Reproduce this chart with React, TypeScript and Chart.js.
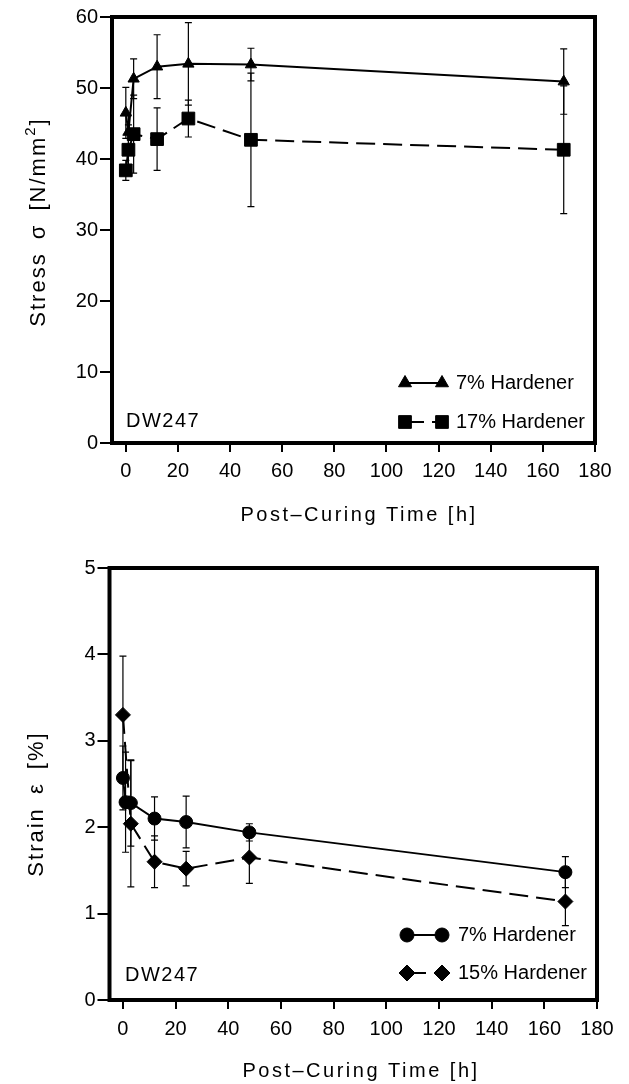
import React, { useEffect, useRef } from "react";
import { Chart, registerables } from "chart.js";

Chart.register(...registerables);

const FONT = '"Liberation Sans", Arial, Helvetica, sans-serif';

// ---------- Top chart: stress ----------
const stressHours7 = [0, 1, 3, 12, 24, 48, 168];
const stress7 = [46.5, 43.8, 51.3, 53.0, 53.4, 53.3, 50.9];
const stress7Err = [3.6, 2.4, 2.8, 4.5, 5.8, 2.3, 4.6];

const stressHours17 = [0, 1, 3, 12, 24, 48, 168];
const stress17 = [38.4, 41.3, 43.5, 42.8, 45.7, 42.7, 41.3];
const stress17Err = [1.4, 3.5, 5.5, 4.4, 2.6, 9.4, 9.0];

const stressTicks = [0, 10, 20, 30, 40, 50, 60];

// ---------- Bottom chart: strain ----------
const strainHours7 = [0, 1, 3, 12, 24, 48, 168];
const strain7 = [2.57, 2.29, 2.28, 2.1, 2.06, 1.94, 1.48];
const strain7Err = [0.37, 0.58, 0.5, 0.25, 0.3, 0.1, 0.18];

const strainHours15 = [0, 3, 12, 24, 48, 168];
const strain15 = [3.3, 2.04, 1.6, 1.52, 1.65, 1.14];
const strain15Err = [0.68, 0.73, 0.3, 0.2, 0.3, 0.28];

const strainTicks = [0, 1, 2, 3, 4, 5];

const hourTicks = [0, 20, 40, 60, 80, 100, 120, 140, 160, 180];

// ---------- helpers ----------
function shapePath(ctx: CanvasRenderingContext2D, style: string, x: number, y: number, r: number) {
  ctx.beginPath();
  if (style === "triangle") {
    let rad = 0;
    ctx.moveTo(x + Math.sin(rad) * r, y - Math.cos(rad) * r);
    rad += (2 * Math.PI) / 3;
    ctx.lineTo(x + Math.sin(rad) * r, y - Math.cos(rad) * r);
    rad += (2 * Math.PI) / 3;
    ctx.lineTo(x + Math.sin(rad) * r, y - Math.cos(rad) * r);
    ctx.closePath();
  } else if (style === "rect") {
    const s = Math.SQRT1_2 * r;
    ctx.rect(x - s, y - s, 2 * s, 2 * s);
  } else if (style === "rectRot") {
    ctx.moveTo(x - r, y);
    ctx.lineTo(x, y - r);
    ctx.lineTo(x + r, y);
    ctx.lineTo(x, y + r);
    ctx.closePath();
  } else {
    ctx.arc(x, y, r, 0, Math.PI * 2);
  }
  ctx.fillStyle = "#000";
  ctx.fill();
  ctx.lineWidth = 1;
  ctx.strokeStyle = "#000";
  ctx.stroke();
}

const errorBarPlugin = {
  id: "errorBars",
  beforeDatasetsDraw(chart: any) {
    const ctx = chart.ctx;
    const xs = chart.scales.x;
    const ys = chart.scales.y;
    chart.data.datasets.forEach((ds: any) => {
      const errs: number[] | undefined = ds.errors;
      if (!errs) return;
      ds.data.forEach((p: any, i: number) => {
        const px = xs.getPixelForValue(p.x);
        const top = ys.getPixelForValue(p.y + errs[i]);
        const bot = ys.getPixelForValue(p.y - errs[i]);
        ctx.save();
        ctx.strokeStyle = "#000";
        ctx.lineWidth = 1.2;
        ctx.beginPath();
        ctx.moveTo(px, top);
        ctx.lineTo(px, bot);
        ctx.moveTo(px - 3.5, top);
        ctx.lineTo(px + 3.5, top);
        ctx.moveTo(px - 3.5, bot);
        ctx.lineTo(px + 3.5, bot);
        ctx.stroke();
        ctx.restore();
      });
    });
  },
};

const framePlugin = {
  id: "frame",
  afterDraw(chart: any) {
    const { ctx, chartArea } = chart;
    ctx.save();
    ctx.strokeStyle = "#000";
    ctx.lineWidth = 4;
    ctx.strokeRect(chartArea.left, chartArea.top, chartArea.right - chartArea.left, chartArea.bottom - chartArea.top);
    ctx.restore();
  },
};

const decorPlugin = {
  id: "decor",
  afterDraw(chart: any, _args: any, opts: any) {
    const ctx: CanvasRenderingContext2D = chart.ctx;
    const c = ctx as any;
    ctx.save();
    ctx.fillStyle = "#000";
    // x title
    ctx.font = `20px ${FONT}`;
    c.letterSpacing = "2.5px";
    ctx.textAlign = "center";
    ctx.textBaseline = "alphabetic";
    ctx.fillText(opts.xTitle, opts.xTitleX, opts.xTitleBaseline);
    // y title (rotated, parts with optional superscript)
    ctx.save();
    c.letterSpacing = "2px";
    c.wordSpacing = "5px";
    ctx.translate(opts.yTitleX, opts.yTitleY);
    ctx.rotate(-Math.PI / 2);
    ctx.textAlign = "left";
    const parts = opts.yTitle as { text: string; sup?: boolean }[];
    const fontFor = (p: any) => (p.sup ? `15px ${FONT}` : `22px ${FONT}`);
    let total = 0;
    parts.forEach((p) => {
      ctx.font = fontFor(p);
      total += ctx.measureText(p.text).width;
    });
    let cx = -total / 2;
    parts.forEach((p) => {
      ctx.font = fontFor(p);
      ctx.fillText(p.text, cx, p.sup ? -10 : 0);
      cx += ctx.measureText(p.text).width;
    });
    ctx.restore();
    // tag
    c.letterSpacing = "1.5px";
    c.wordSpacing = "0px";
    ctx.font = `20px ${FONT}`;
    ctx.textAlign = "left";
    ctx.textBaseline = "middle";
    ctx.fillText(opts.tag, opts.tagX, opts.tagY);
    // legend
    c.letterSpacing = "0px";
    opts.legend.forEach((item: any) => {
      ctx.save();
      ctx.strokeStyle = "#000";
      ctx.lineWidth = 2;
      ctx.setLineDash(item.dash);
      ctx.beginPath();
      ctx.moveTo(opts.legendX1, item.y);
      ctx.lineTo(opts.legendX2, item.y);
      ctx.stroke();
      ctx.setLineDash([]);
      shapePath(ctx, item.style, opts.legendX1, item.y, item.r);
      shapePath(ctx, item.style, opts.legendX2, item.y, item.r);
      ctx.restore();
      ctx.font = `20px ${FONT}`;
      ctx.textAlign = "left";
      ctx.textBaseline = "middle";
      ctx.fillText(item.label, opts.legendTextX, item.y);
    });
    ctx.restore();
  },
};

function makeDataset(label: string, hours: number[], values: number[], errs: number[], style: string, r: number, dash: number[]) {
  return {
    label,
    data: hours.map((h, i) => ({ x: h, y: values[i] })),
    errors: errs,
    borderColor: "#000",
    backgroundColor: "#000",
    borderWidth: 2,
    borderDash: dash,
    pointStyle: style,
    pointRadius: r,
    pointBorderWidth: 1,
    pointBackgroundColor: "#000",
    pointBorderColor: "#000",
    showLine: true,
    tension: 0,
    fill: false,
  };
}

function makeConfig(p: {
  datasets: any[];
  xMin: number;
  yMax: number;
  yTicks: number[];
  yWidth: number;
  xHeight: number;
  padTop: number;
  padRight: number;
  xTickPad: number;
  decor: any;
}) {
  const tickFont = { family: FONT, size: 20 };
  return {
    type: "line",
    data: { datasets: p.datasets },
    plugins: [errorBarPlugin, framePlugin, decorPlugin],
    options: {
      responsive: false,
      animation: false,
      events: [],
      layout: { padding: { top: p.padTop, right: p.padRight, left: 0, bottom: 0 } },
      plugins: {
        legend: { display: false },
        tooltip: { enabled: false },
        decor: p.decor,
      },
      scales: {
        x: {
          type: "linear",
          min: p.xMin,
          max: 180,
          afterBuildTicks: (s: any) => {
            s.ticks = hourTicks.map((v) => ({ value: v }));
          },
          afterFit: (s: any) => {
            s.height = p.xHeight;
          },
          border: { display: false },
          grid: {
            display: true,
            drawOnChartArea: false,
            drawTicks: true,
            tickLength: 9,
            tickWidth: 2,
            tickColor: "#000",
            color: "#000",
            lineWidth: 2,
          },
          ticks: { font: tickFont, color: "#000", padding: p.xTickPad, maxRotation: 0, autoSkip: false },
        },
        y: {
          type: "linear",
          min: 0,
          max: p.yMax,
          afterBuildTicks: (s: any) => {
            s.ticks = p.yTicks.map((v) => ({ value: v }));
          },
          afterFit: (s: any) => {
            s.width = p.yWidth;
          },
          border: { display: false },
          grid: {
            display: true,
            drawOnChartArea: false,
            drawTicks: true,
            tickLength: 12,
            tickWidth: 2,
            tickColor: "#000",
            color: "#000",
            lineWidth: 2,
          },
          ticks: { font: tickFont, color: "#000", padding: 2, autoSkip: false },
        },
      },
    },
  } as any;
}

function ChartCanvas({ config, width, height, top }: { config: any; width: number; height: number; top: number }) {
  const ref = useRef<HTMLCanvasElement | null>(null);
  useEffect(() => {
    if (!ref.current) return;
    const chart = new Chart(ref.current, config);
    return () => chart.destroy();
  }, [config]);
  return (
    <canvas
      ref={ref}
      width={width}
      height={height}
      style={{ position: "absolute", left: 0, top, width, height, display: "block" }}
    />
  );
}

const topConfig = makeConfig({
  datasets: [
    makeDataset("7% Hardener", stressHours7, stress7, stress7Err, "triangle", 6.5, []),
    makeDataset("17% Hardener", stressHours17, stress17, stress17Err, "rect", 9, [19, 8]),
  ],
  xMin: -5.3,
  yMax: 60,
  yTicks: stressTicks,
  yWidth: 112,
  xHeight: 540 - 443,
  padTop: 17,
  padRight: 34,
  xTickPad: 7,
  decor: {
    xTitle: "Post\u2013Curing Time [h]",
    xTitleX: 359,
    xTitleBaseline: 521,
    yTitle: [{ text: "Stress \u03c3 [N/mm" }, { text: "2", sup: true }, { text: "]" }],
    yTitleX: 45,
    yTitleY: 222,
    tag: "DW247",
    tagX: 126,
    tagY: 421,
    legendX1: 405,
    legendX2: 442,
    legendTextX: 456,
    legend: [
      { style: "triangle", r: 7.5, dash: [], label: "7% Hardener", y: 383 },
      { style: "rect", r: 9, dash: [19, 8], label: "17% Hardener", y: 422 },
    ],
  },
});

const bottomConfig = makeConfig({
  datasets: [
    makeDataset("7% Hardener", strainHours7, strain7, strain7Err, "circle", 6.5, []),
    makeDataset("15% Hardener", strainHours15, strain15, strain15Err, "rectRot", 7.5, [19, 8]),
  ],
  xMin: -5.1,
  yMax: 5,
  yTicks: strainTicks,
  yWidth: 109.5,
  xHeight: 544 - 460,
  padTop: 28,
  padRight: 32,
  xTickPad: 8,
  decor: {
    xTitle: "Post\u2013Curing Time [h]",
    xTitleX: 361,
    xTitleBaseline: 537,
    yTitle: [{ text: "Strain \u03b5 [%]" }],
    yTitleX: 43,
    yTitleY: 264,
    tag: "DW247",
    tagX: 125,
    tagY: 435,
    legendX1: 407,
    legendX2: 442,
    legendTextX: 458,
    legend: [
      { style: "circle", r: 7, dash: [], label: "7% Hardener", y: 395 },
      { style: "rectRot", r: 8, dash: [19, 8], label: "15% Hardener", y: 433 },
    ],
  },
});

export default function App() {
  return (
    <div style={{ position: "absolute", left: 0, top: 0, width: 629, height: 1084, background: "#fff" }}>
      <ChartCanvas config={topConfig} width={629} height={540} top={0} />
      <ChartCanvas config={bottomConfig} width={629} height={544} top={540} />
    </div>
  );
}
